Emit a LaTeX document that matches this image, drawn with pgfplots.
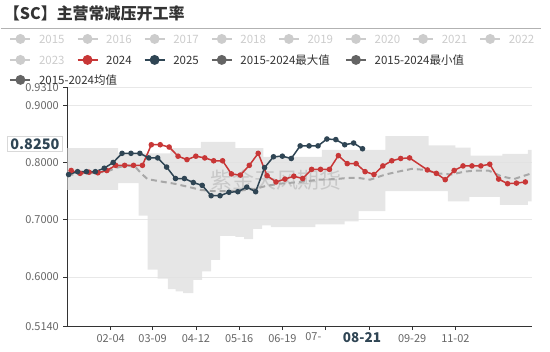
\documentclass[border=0pt]{standalone}
\usepackage{pgfplots}
\pgfplotsset{compat=1.18}
\usepackage{fontspec}
\setmainfont{Noto Sans CJK SC}
\definecolor{red24}{RGB}{200,55,55}
\definecolor{navy25}{RGB}{47,69,84}
\definecolor{bandc}{RGB}{226,226,226}
\definecolor{meanc}{RGB}{168,168,168}
\definecolor{lgrey}{RGB}{204,204,204}
\definecolor{dgrey}{RGB}{100,100,100}
\definecolor{txt}{RGB}{51,51,51}
\definecolor{tickc}{RGB}{102,102,102}
\definecolor{gridc}{RGB}{232,232,232}
\newcommand{\lgitem}[5]{%
  \draw[#3, line width=1.5pt] (#1pt-10pt,#2pt) -- (#1pt+10pt,#2pt);
  \fill[#3] (#1pt,#2pt) circle (5pt);
  \node[anchor=west, inner sep=0, text=#4, font=\fontsize{11.5}{12}\selectfont] at (#1pt+18.5pt,#2pt) {#5};}
\begin{document}
\begin{tikzpicture}
\path (0pt,0pt) rectangle (550pt,-352pt);
\node[anchor=west, font=\fontsize{16}{16}\selectfont\bfseries, text=txt, inner sep=0] at (3pt,-13pt) {【SC】主营常减压开工率};
\draw[line width=1.5pt, color=black!30] (0pt,-28.3pt) -- (541pt,-28.3pt);
% legend
\lgitem{19.7}{-39}{lgrey}{lgrey}{2015}
\lgitem{86.9}{-39}{lgrey}{lgrey}{2016}
\lgitem{154.1}{-39}{lgrey}{lgrey}{2017}
\lgitem{221.3}{-39}{lgrey}{lgrey}{2018}
\lgitem{288.5}{-39}{lgrey}{lgrey}{2019}
\lgitem{355.7}{-39}{lgrey}{lgrey}{2020}
\lgitem{422.9}{-39}{lgrey}{lgrey}{2021}
\lgitem{490.1}{-39}{lgrey}{lgrey}{2022}
\lgitem{19.7}{-60}{lgrey}{lgrey}{2023}
\lgitem{86.9}{-60}{red24}{txt}{2024}
\lgitem{154.1}{-60}{navy25}{txt}{2025}
\lgitem{221.3}{-60}{dgrey}{txt}{2015-2024最大值}
\lgitem{355.7}{-60}{dgrey}{txt}{2015-2024最小值}
\begin{axis}[
  at={(66.7pt,-326.7pt)}, anchor=south west,
  scale only axis, width=465pt, height=239.1pt,
  xmin=1, xmax=366, ymin=0.514, ymax=0.931,
  axis x line*=bottom, axis y line*=left,
  axis line style={-, draw=txt, line width=0.8pt},
  ytick={0.514,0.6,0.7,0.8,0.9,0.931},
  yticklabels={0.5140,0.6000,0.7000,0.8000,0.9000,0.9310},
  xtick={35,68,102,136,170,204,238,272,306},
  xticklabels={02-04,03-09,04-12,05-16,06-19,{},{},09-29,11-02},
  tick align=outside, major tick length=4pt,
  tick style={draw=txt, line width=0.6pt},
  ymajorgrids, grid style={draw=gridc, line width=0.8pt},
  ticklabel style={font=\fontsize{11}{11}\selectfont, text=tickc},
  yticklabel style={xshift=-1pt},
  xticklabel style={yshift=-1pt},
  clip=false,
]
% 2015-2024 max/min band (max steps, then min steps reversed)
\addplot[fill=bandc, fill opacity=0.85, draw=none, forget plot] coordinates {
(1,0.825)(41,0.825)(41,0.816)(82,0.816)(82,0.825)(106,0.825)(106,0.836)(133,0.836)
(133,0.825)(155,0.825)(155,0.810)(201,0.810)(201,0.822)(251,0.822)(251,0.846)(285,0.846)
(285,0.830)(306,0.830)(306,0.826)(318,0.826)(318,0.812)(343,0.812)(343,0.815)(363,0.815)
(363,0.822)(366,0.822)
(366,0.732)(363,0.732)(363,0.726)(341,0.726)(341,0.740)(317,0.740)(317,0.732)(300,0.732)
(300,0.750)(251,0.750)(251,0.715)(230,0.715)(230,0.697)(219,0.697)(219,0.692)(196,0.692)
(196,0.687)(161,0.687)(161,0.690)(154,0.690)(154,0.684)(147,0.684)(147,0.666)(140,0.666)
(140,0.670)(133,0.670)(133,0.672)(121,0.672)(121,0.630)(114,0.630)(114,0.610)(107,0.610)
(107,0.595)(100,0.595)(100,0.572)(92,0.572)(92,0.575)(86,0.575)(86,0.579)(80,0.579)
(80,0.597)(72,0.597)(72,0.613)(64,0.613)(64,0.707)(57,0.707)(57,0.764)(41,0.764)
(41,0.752)(1,0.752)} -- cycle;
\node[text=black, opacity=0.13, font=\fontsize{22}{22}\selectfont] at (axis cs:165,0.770) {紫金天风期货};
% mean
\addplot[meanc, line width=2pt, dash pattern=on 6pt off 4pt] coordinates {
(1,0.778) (11,0.780) (23,0.782) (32,0.784) (40,0.791) (48,0.795) (55,0.791) (59,0.781)
(64,0.771) (74,0.767) (85,0.763) (95,0.758) (106,0.752) (116,0.750) (126,0.750) (137,0.751)
(149,0.754) (157,0.759) (168,0.763) (179,0.765) (188,0.767) (198,0.770) (212,0.771)
(221,0.773) (230,0.773) (239,0.770) (251,0.779) (261,0.784) (272,0.789) (282,0.787)
(292,0.781) (303,0.779) (313,0.784) (322,0.786) (332,0.786) (342,0.776) (352,0.771)
(363,0.779) (366,0.781)};
% 2024
\addplot[red24, line width=1.5pt, mark=*, mark size=2pt, mark options={fill=red24}] coordinates {
(4,0.786) (11,0.781) (18,0.783) (25,0.782) (32,0.786) (39,0.795) (46,0.795) (53,0.795)
(60,0.795) (67,0.831) (74,0.831) (81,0.827) (88,0.811) (95,0.805) (102,0.811) (109,0.808)
(116,0.803) (123,0.803) (130,0.780) (137,0.778) (144,0.795) (151,0.816) (158,0.777)
(165,0.766) (172,0.771) (179,0.776) (186,0.772) (193,0.788) (200,0.788) (207,0.788)
(214,0.812) (221,0.798) (228,0.798) (235,0.784) (242,0.779) (249,0.794) (256,0.803)
(263,0.807) (270,0.808) (284,0.787) (291,0.781) (298,0.770) (305,0.786) (312,0.794)
(319,0.794) (326,0.794) (333,0.797) (340,0.771) (347,0.763) (354,0.764) (361,0.766)};
% 2025
\addplot[navy25, line width=1.5pt, mark=*, mark size=2pt, mark options={fill=navy25}] coordinates {
(2,0.779) (9,0.784) (16,0.784) (23,0.784) (30,0.790) (37,0.800) (44,0.816) (51,0.816)
(58,0.816) (65,0.808) (72,0.808) (79,0.792) (86,0.772) (93,0.772) (100,0.765) (107,0.760)
(114,0.742) (121,0.742) (128,0.748) (135,0.749) (142,0.757) (149,0.749) (156,0.791)
(163,0.810) (170,0.811) (177,0.807) (184,0.829) (191,0.829) (198,0.829) (205,0.841)
(212,0.840) (219,0.831) (226,0.834) (233,0.824)};
\end{axis}
% row 3 legend drawn over axis top
\lgitem{19.7}{-80}{dgrey}{txt}{2015-2024均值}
% x labels
\node[anchor=north, inner sep=0, text=tickc, font=\fontsize{11}{11}\selectfont] at (313pt,-332.7pt) {07-};
\node[anchor=north, inner sep=1pt, fill=white, text=navy25, font=\fontsize{13.5}{14}\selectfont\bfseries] at (361.7pt,-331.5pt) {08-21};
% y pointer label
\node[anchor=east, draw=black!15, fill=white, text=navy25, inner xsep=3pt, inner ysep=2pt, font=\fontsize{14.5}{15}\selectfont\bfseries] at (62pt,-144pt) {0.8250};
\end{tikzpicture}
\end{document}
